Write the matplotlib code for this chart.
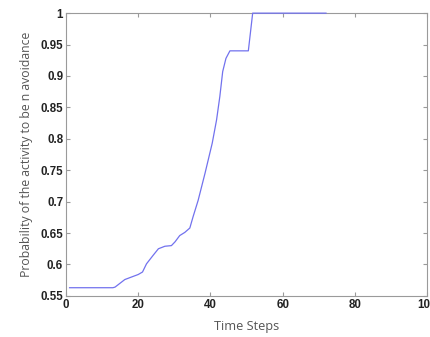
import matplotlib
matplotlib.use("Agg")
from matplotlib import pyplot as plt

# valori
passi = [1, 13, 13.6, 16.3, 18.6, 20, 21.2, 22.3, 24.2, 25.6, 27.4, 29.2, 30.2, 31.5,
         32.9, 34.3, 35.2, 36.6, 38.5, 40.5, 41.7, 42.6, 43.4, 44.3, 45.4, 46.3, 50.5,
         51.7, 60, 72]
probabilita = [0.563, 0.563, 0.564, 0.576, 0.581, 0.584, 0.588, 0.601, 0.615, 0.625,
               0.629, 0.630, 0.636, 0.646, 0.651, 0.658, 0.676, 0.702, 0.745, 0.793,
               0.830, 0.867, 0.907, 0.928, 0.940, 0.940, 0.940, 1.0, 1.0, 1.0]
xticks = [0, 20, 40, 60, 80, 100]
yticks = [0.55, 0.6, 0.65, 0.7, 0.75, 0.8, 0.85, 0.9, 0.95, 1]
ytick_labels = ["0.55", "0.6", "0.65", "0.7", "0.75", "0.8", "0.85", "0.9", "0.95", "1"]

fig = plt.figure(figsize=(4.31, 3.37), dpi=100)
ax = fig.add_axes([0.153, 0.122, 0.838, 0.839])
ax.plot(passi, probabilita, color="#7272ee", linewidth=0.9, zorder=5, clip_on=False)
ax.set_xlim(0, 100)
ax.set_ylim(0.55, 1)
ax.set_xticks(xticks)
ax.set_xticklabels([str(t) for t in xticks])
ax.set_yticks(yticks)
ax.set_yticklabels(ytick_labels)
for s in ax.spines.values():
    s.set_color("#9a9a9a")
    s.set_linewidth(0.8)
ax.tick_params(direction="in", top=True, right=True, length=3, color="#9a9a9a",
               labelsize=8.3, labelcolor="#222222", pad=2)
for t in ax.get_xticklabels() + ax.get_yticklabels():
    t.set_family("Liberation Sans")
    t.set_fontweight("bold")
ax.set_xlabel("Time Steps", family="Open Sans", fontsize=9.2, color="#555555", labelpad=7)
ax.set_ylabel("Probability of the activity to be n avoidance", family="Open Sans",
              fontsize=8.8, color="#555555", labelpad=5)
plt.savefig("out.png", dpi=100)
